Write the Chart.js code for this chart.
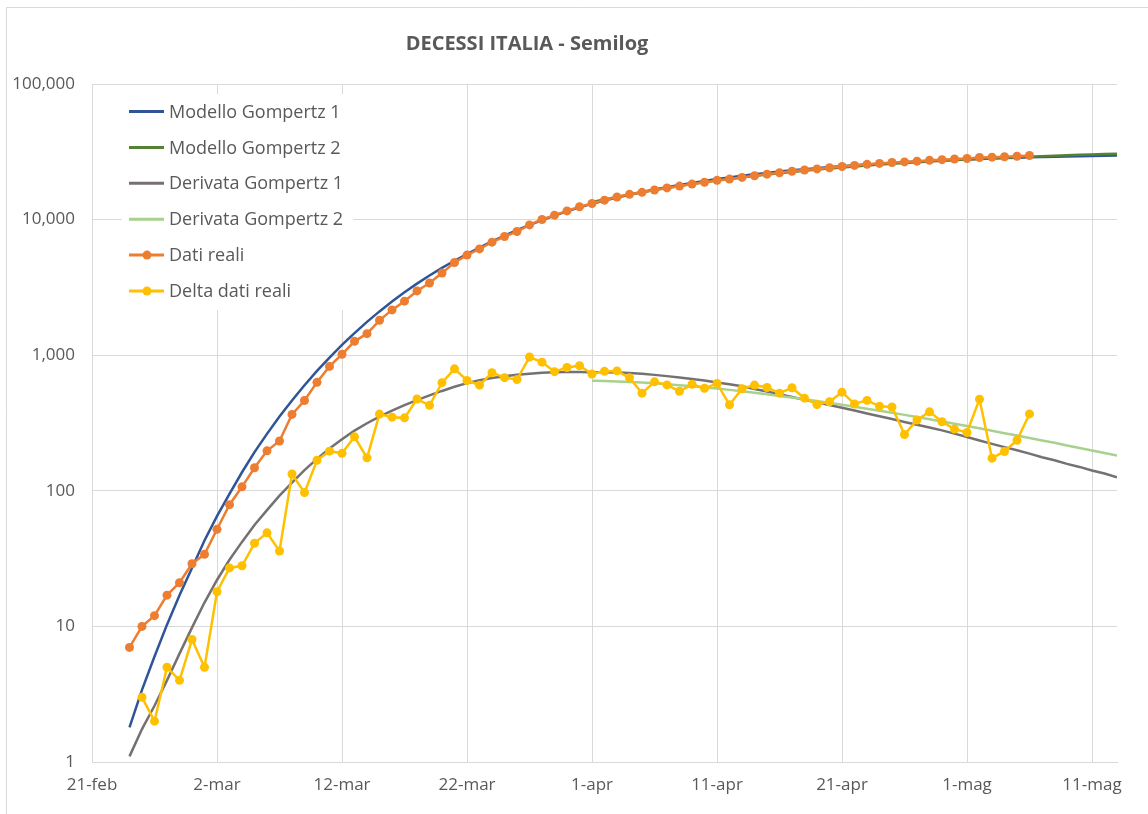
<!DOCTYPE html>
<html>
<head>
<meta charset="utf-8">
<script src="https://cdn.jsdelivr.net/npm/chart.js@4.4.1/dist/chart.umd.min.js"></script>
<style>
  html, body { margin: 0; padding: 0; background: #fff; }
  canvas { display: block; }
</style>
</head>
<body>
<canvas id="semilog" width="1148" height="814"></canvas>
<script>
// giorni contati dal 21-feb (giorno 0)
const tickLabels = ['21-feb', '2-mar', '12-mar', '22-mar', '1-apr', '11-apr', '21-apr', '1-mag', '11-mag'];
const yTicks = [1, 10, 100, 1000, 10000, 100000];

// Dati reali: dal 24-feb (giorno 3)
const datiReali = [7, 10, 12, 17, 21, 29, 34, 52, 79, 107, 148, 197, 233, 366, 463, 631, 827, 1016, 1266, 1441,
  1809, 2158, 2503, 2978, 3405, 4032, 4825, 5476, 6077, 6820, 7503, 8165, 9134, 10023, 10779, 11591, 12428,
  13155, 13915, 14681, 15362, 15887, 16523, 17127, 17669, 18279, 18849, 19468, 19899, 20465, 21067, 21645,
  22170, 22745, 23227, 23660, 24114, 24648, 25085, 25549, 25969, 26384, 26644, 26977, 27359, 27682, 27967,
  28236, 28710, 28884, 29079, 29315, 29684];

// Delta dati reali: dal 25-feb (giorno 4)
const deltaReali = [3, 2, 5, 4, 8, 5, 18, 27, 28, 41, 49, 36, 133, 97, 168, 196, 189, 250, 175, 368, 349, 345,
  475, 427, 627, 793, 651, 601, 743, 683, 662, 969, 889, 756, 812, 837, 727, 760, 766, 681, 525, 636, 604, 542,
  610, 570, 619, 431, 566, 602, 578, 525, 575, 482, 433, 454, 534, 437, 464, 420, 415, 260, 333, 382, 323, 285,
  269, 474, 174, 195, 236, 369];

// Modello Gompertz 1: dal 24-feb (giorno 3) al 13-mag
const gompertz1 = [1.8, 3.4, 6.0, 10.3, 17, 27, 43, 65, 95, 137, 193, 263, 353, 464, 601, 766, 961, 1193, 1455,
  1761, 2104, 2489, 2912, 3373, 3870, 4403, 4969, 5566, 6221, 6907, 7622, 8362, 9121, 9898, 10690, 11494,
  12305, 13056, 13800, 14534, 15260, 15971, 16670, 17350, 18013, 18659, 19283, 19890, 20473, 21036, 21577,
  22097, 22595, 23074, 23529, 23966, 24382, 24779, 25153, 25513, 25852, 26177, 26485, 26775, 27050, 27311,
  27558, 27790, 28011, 28219, 28414, 28599, 28775, 28939, 29093, 29239, 29376, 29503, 29627, 29743];

// Modello Gompertz 2: dal 1-apr (giorno 40) al 13-mag
const gompertz2 = [13476, 14097, 14714, 15325, 15932, 16532, 17126, 17706, 18282, 18844, 19399, 19938, 20469,
  20986, 21490, 21983, 22460, 22929, 23381, 23819, 24243, 24657, 25057, 25444, 25816, 26179, 26527, 26862,
  27183, 27493, 27797, 28083, 28362, 28628, 28887, 29132, 29366, 29594, 29815, 30022, 30222, 30412, 30598];

// Derivata Gompertz 1: dal 24-feb (giorno 3)
const derivata1 = [1.1, 1.75, 2.6, 4.0, 6.3, 9.8, 15, 22, 31, 42, 56, 72, 92, 115, 142, 172, 205, 240, 278, 315,
  352, 390, 428, 466, 505, 545, 585, 622, 654, 680, 700, 717, 731, 741, 748, 752, 752, 750, 748, 744, 738, 730,
  716, 701, 685, 668, 650, 630, 610, 590, 564, 539, 515, 492, 470, 449, 429, 410, 391, 372, 355, 338, 322, 307,
  293, 279, 264, 249, 235, 222, 210, 199, 188, 177, 168, 158, 150, 141, 134, 126];

// Derivata Gompertz 2: dal 1-apr (giorno 40)
const derivata2 = [649, 645, 641, 635, 628, 620, 611, 601, 591, 579, 567, 555, 542, 529, 515, 501, 487, 473, 459,
  445, 431, 417, 403, 389, 376, 363, 350, 337, 324, 312, 300, 289, 277, 266, 256, 245, 235, 226, 216, 207, 198,
  190, 182];

function serie(start, valori) {
    return valori.map((v, i) => ({ x: start + i, y: v }));
}

const testo = '#595959';
const griglia = '#d9d9d9';

// legenda disegnata dentro l'area del grafico, come in Excel
const legendaInterna = {
    id: 'legendaInterna',
    beforeDatasetsDraw(chart) {
        const ctx = chart.ctx;
        ctx.save();
        ctx.fillStyle = '#ffffff';
        ctx.fillRect(122, 94, 231, 216);
        ctx.font = '18px "Open Sans"';
        ctx.textBaseline = 'middle';
        chart.data.datasets.forEach((ds, i) => {
            const y = 111.5 + i * 35.9;
            ctx.strokeStyle = ds.borderColor;
            ctx.lineWidth = 3;
            ctx.beginPath();
            ctx.moveTo(129, y);
            ctx.lineTo(164, y);
            ctx.stroke();
            if (ds.pointRadius > 0) {
                ctx.fillStyle = ds.borderColor;
                ctx.beginPath();
                ctx.arc(147, y, 4.5, 0, Math.PI * 2);
                ctx.fill();
            }
            ctx.fillStyle = testo;
            ctx.fillText(ds.label, 169, y + 1);
        });
        ctx.restore();
    },
    afterDraw(chart) {
        const ctx = chart.ctx;
        ctx.save();
        // cornice esterna
        ctx.strokeStyle = griglia;
        ctx.lineWidth = 1;
        ctx.beginPath();
        ctx.moveTo(6.5, 814);
        ctx.lineTo(6.5, 7.5);
        ctx.lineTo(1148, 7.5);
        ctx.stroke();
        // titolo
        ctx.fillStyle = testo;
        ctx.font = 'bold 20px "Open Sans"';
        ctx.textAlign = 'center';
        ctx.textBaseline = 'middle';
        ctx.fillText('DECESSI ITALIA - Semilog', 527, 44);
        ctx.restore();
    }
};

document.addEventListener("DOMContentLoaded", function () {
    const ctx = document.getElementById('semilog').getContext('2d');
    new Chart(ctx, {
        type: 'line',
        data: {
            datasets: [
                { label: 'Modello Gompertz 1', data: serie(3, gompertz1), borderColor: '#2f5597', borderWidth: 2.5, pointRadius: 0, order: 6 },
                { label: 'Modello Gompertz 2', data: serie(40, gompertz2), borderColor: '#548235', borderWidth: 2.5, pointRadius: 0, order: 5 },
                { label: 'Derivata Gompertz 1', data: serie(3, derivata1), borderColor: '#767171', borderWidth: 2.5, pointRadius: 0, order: 4 },
                { label: 'Derivata Gompertz 2', data: serie(40, derivata2), borderColor: '#a9d18e', borderWidth: 2.5, pointRadius: 0, order: 3 },
                { label: 'Dati reali', data: serie(3, datiReali), borderColor: '#ed7d31', backgroundColor: '#ed7d31', borderWidth: 2.5,
                  pointRadius: 4.5, pointBorderWidth: 0, pointBackgroundColor: '#ed7d31', order: 2 },
                { label: 'Delta dati reali', data: serie(4, deltaReali), borderColor: '#ffc000', backgroundColor: '#ffc000', borderWidth: 2.5,
                  pointRadius: 4.5, pointBorderWidth: 0, pointBackgroundColor: '#ffc000', order: 1 }
            ]
        },
        options: {
            responsive: false,
            animation: false,
            devicePixelRatio: 1,
            layout: { padding: { left: 0, top: 84, right: 31, bottom: 0 } },
            plugins: {
                legend: { display: false },
                title: { display: false },
                tooltip: { enabled: false }
            },
            scales: {
                x: {
                    type: 'linear',
                    min: 0,
                    max: 82,
                    afterBuildTicks: axis => { axis.ticks = tickLabels.map((_, i) => ({ value: i * 10 })); },
                    afterFit: axis => { axis.height = 52; },
                    grid: { color: griglia, drawTicks: false },
                    border: { color: griglia },
                    ticks: {
                        autoSkip: false,
                        maxRotation: 0,
                        padding: 13,
                        color: testo,
                        font: { family: 'Open Sans', size: 17 },
                        callback: value => tickLabels[Math.round(value / 10)]
                    }
                },
                y: {
                    type: 'logarithmic',
                    min: 1,
                    max: 100000,
                    afterBuildTicks: axis => { axis.ticks = yTicks.map(v => ({ value: v })); },
                    afterFit: axis => { axis.width = 92; },
                    grid: { color: griglia, drawTicks: false },
                    border: { color: griglia },
                    ticks: {
                        padding: 17,
                        color: testo,
                        font: { family: 'Open Sans', size: 17 },
                        callback: value => value.toLocaleString('en-US')
                    }
                }
            }
        },
        plugins: [legendaInterna]
    });
});
</script>
</body>
</html>
